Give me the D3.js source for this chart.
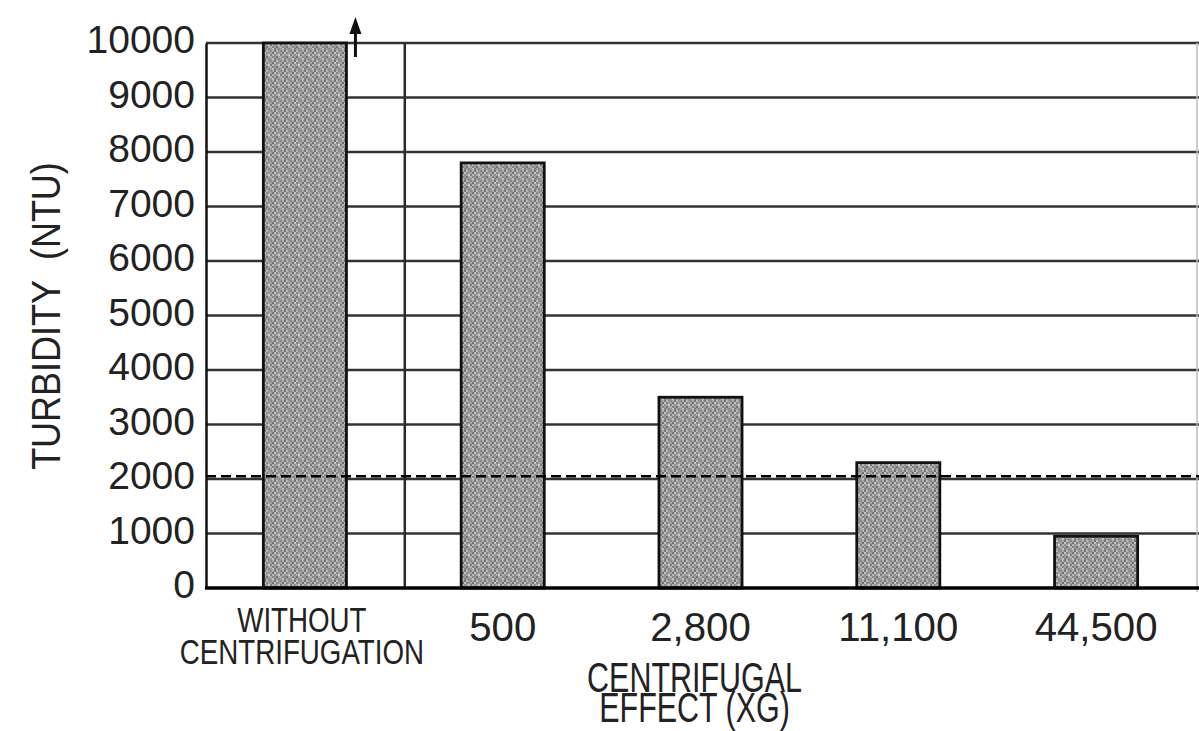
<!DOCTYPE html>
<html><head><meta charset="utf-8">
<script src="https://cdn.jsdelivr.net/npm/d3@7"></script>
<style>body{margin:0;background:#fff;} svg{display:block;}</style>
</head><body>
<svg id="chart" width="1199" height="731"></svg>
<script>
// ---- data ----
const categories = ["WITHOUT CENTRIFUGATION", "500", "2,800", "11,100", "44,500"];
const categoryLines = [["WITHOUT", "CENTRIFUGATION"], ["500"], ["2,800"], ["11,100"], ["44,500"]];
const turbidity = [10000, 7800, 3500, 2300, 950];
const offScale = [true, false, false, false, false];
const yTicks = [0, 1000, 2000, 3000, 4000, 5000, 6000, 7000, 8000, 9000, 10000];
const referenceLevel = [2050];
const yTitleParts = ["TURBIDITY", "(NTU)"];
const xTitleLines = ["CENTRIFUGAL", "EFFECT (XG)"];

// ---- layout ----
const W = 1199, H = 731;
const mLeft = 206, mRight = 1195, mTop = 43, mBottom = 588;
const svg = d3.select("#chart");
const FONT = "'Liberation Sans', Arial, sans-serif";
const ink = "#222";

const x = d3.scaleBand().domain(categories).range([mLeft, mRight]).paddingInner(0.58).paddingOuter(0.29);
const y = d3.scaleLinear().domain([0, 10000]).range([mBottom, mTop]);

// stipple pattern
const defs = svg.append("defs");
const pat = defs.append("pattern").attr("id", "stipple").attr("patternUnits", "userSpaceOnUse")
  .attr("width", 10).attr("height", 10);
const tile = [
  "#8c8c8c","#a9a9a9","#777","#b8b8b8","#959595",
  "#a2a2a2","#6f6f6f","#c4c4c4","#888","#9e9e9e",
  "#7d7d7d","#b3b3b3","#929292","#a5a5a5","#c9c9c9",
  "#b0b0b0","#858585","#9a9a9a","#737373","#aaaaaa",
  "#999","#c0c0c0","#808080","#a0a0a0","#8a8a8a"];
tile.forEach((c, i) => {
  pat.append("rect").attr("x", (i % 5) * 2).attr("y", Math.floor(i / 5) * 2)
    .attr("width", 2).attr("height", 2).attr("fill", c);
});

// gridlines (behind bars)
svg.append("g").selectAll("line").data(yTicks.filter(d => d > 0)).join("line")
  .attr("x1", mLeft).attr("x2", W)
  .attr("y1", d => y(d)).attr("y2", d => y(d))
  .attr("stroke", "#333").attr("stroke-width", 2.5);

// right faint border
svg.append("line").attr("x1", 1197).attr("x2", 1197).attr("y1", mTop).attr("y2", mBottom + 4)
  .attr("stroke", "#bdbdbd").attr("stroke-width", 1.5);

// separator between control and centrifuged groups
const sep = x.range()[0] + x.step();
svg.append("line").attr("x1", sep + 1).attr("x2", sep + 1).attr("y1", mTop).attr("y2", mBottom)
  .attr("stroke", "#2a2a2a").attr("stroke-width", 2.5);

// bars
svg.append("g").selectAll("rect").data(turbidity).join("rect")
  .attr("x", (d, i) => x(categories[i]))
  .attr("width", x.bandwidth())
  .attr("y", d => y(d))
  .attr("height", d => y(0) - y(d))
  .attr("fill", "url(#stipple)")
  .attr("stroke", "#111").attr("stroke-width", 2.8);

// reference dashed line
svg.append("g").selectAll("line").data(referenceLevel).join("line")
  .attr("x1", mLeft).attr("x2", W)
  .attr("y1", d => y(d)).attr("y2", d => y(d))
  .attr("stroke", "#000").attr("stroke-width", 2.5).attr("stroke-dasharray", "10 5");

// axes
const yAxis = d3.axisLeft(y).tickValues(yTicks).tickSize(0).tickPadding(11).tickFormat(d3.format("d"));
const yg = svg.append("g").attr("transform", `translate(${mLeft},0)`).call(yAxis);
yg.select(".domain").attr("stroke", "#111").attr("stroke-width", 2.5);
yg.selectAll("text").attr("font-family", FONT).attr("font-size", 39).attr("fill", ink)
  .attr("dy", "0.25em");

svg.append("line").attr("x1", mLeft - 1).attr("x2", W).attr("y1", mBottom).attr("y2", mBottom)
  .attr("stroke", "#000").attr("stroke-width", 3.5);

// off-scale arrow over first bar
offScale.forEach((o, i) => {
  if (!o) return;
  const ax = x(categories[i]) + x.bandwidth() + 9;
  svg.append("line").attr("x1", ax).attr("x2", ax).attr("y1", y(turbidity[i]) + 14).attr("y2", 30)
    .attr("stroke", "#111").attr("stroke-width", 3);
  svg.append("path").attr("d", `M${ax},${17} L${ax - 6},${34} L${ax + 6},${34} Z`).attr("fill", "#111");
});

// helper for condensed (multi-line) text as one text element
function ctext(lines, cx, baseline, size, sx, lineGap) {
  const t = svg.append("text")
    .attr("transform", `translate(${cx},${baseline}) scale(${sx},1)`)
    .attr("text-anchor", "middle")
    .attr("font-family", FONT).attr("font-size", size).attr("fill", ink);
  lines.forEach((s, k) => {
    t.append("tspan").attr("x", 0).attr("y", k * (lineGap || 0)).text(s);
  });
}

// x tick labels
categoryLines.forEach((lines, i) => {
  const cx = x(categories[i]) + x.bandwidth() / 2;
  if (lines.length === 1) {
    ctext(lines, cx, 641, 41, 0.98);
  } else {
    ctext(lines, cx - 3, 632, 36, 0.77, 32);
  }
});

// x title
const xtc = x(categories[2]) + x.bandwidth() / 2 - 6;
ctext(xTitleLines, xtc, 692, 42, 0.725, 30);

// y title
const yt = svg.append("text")
  .attr("transform", "translate(60,316) rotate(-90) scale(0.9,1)")
  .attr("text-anchor", "middle")
  .attr("font-family", FONT).attr("font-size", 40).attr("fill", ink);
yt.append("tspan").text(yTitleParts[0]);
yt.append("tspan").attr("dx", 22).text(yTitleParts[1]);
</script>
</body></html>
